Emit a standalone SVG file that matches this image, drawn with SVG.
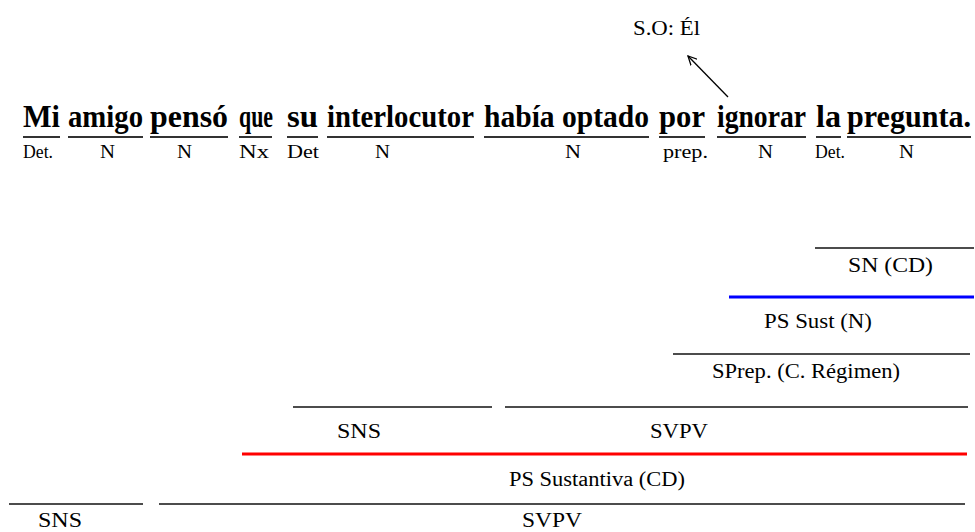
<svg xmlns="http://www.w3.org/2000/svg" width="975" height="532" viewBox="0 0 975 532">
<style>
  .w { font-family: "Liberation Serif", "DejaVu Serif", serif; font-weight: bold; font-size: 31px; fill: #000; }
  .l { font-family: "Liberation Serif", "DejaVu Serif", serif; font-weight: normal; font-size: 18px; fill: #000; }
  .c { font-family: "Liberation Serif", "DejaVu Serif", serif; font-weight: normal; font-size: 20px; fill: #000; }
  .ul { stroke: #333; stroke-width: 2; }
  .br { stroke: #111; stroke-width: 1.6; }
  .blue { stroke: #0000ff; stroke-width: 3; }
  .red { stroke: #ff0000; stroke-width: 3; }
  .arr { stroke: #000; stroke-width: 1.3; fill: none; }
</style>
<defs>
  <marker id="ah" viewBox="0 0 10 10" refX="9" refY="5" markerWidth="10" markerHeight="10" markerUnits="userSpaceOnUse" orient="auto">
    <path d="M0,0.5 L9,5 L0,9.5" fill="none" stroke="#000" stroke-width="1.3"/>
  </marker>
</defs>
<rect width="975" height="532" fill="#fff"/>

<g id="so">
  <text class="c" x="633" y="35" textLength="67" lengthAdjust="spacingAndGlyphs">S.O: Él</text>
</g>

<g id="connectors">
  <line class="arr" x1="728" y1="97" x2="688" y2="56" marker-end="url(#ah)"/>
</g>

<g id="w-mi"><text class="w" x="23" y="127" textLength="37" lengthAdjust="spacingAndGlyphs">Mi</text><line class="ul" x1="23" y1="137" x2="60" y2="137"/><text class="l" x="23" y="158" textLength="30" lengthAdjust="spacingAndGlyphs">Det.</text></g>
<g id="w-amigo"><text class="w" x="68" y="127" textLength="75" lengthAdjust="spacingAndGlyphs">amigo</text><line class="ul" x1="68" y1="137" x2="143" y2="137"/><text class="l" x="100" y="158" textLength="15" lengthAdjust="spacingAndGlyphs">N</text></g>
<g id="w-penso"><text class="w" x="150" y="127" textLength="78" lengthAdjust="spacingAndGlyphs">pensó</text><line class="ul" x1="150" y1="137" x2="228" y2="137"/><text class="l" x="177" y="158" textLength="15" lengthAdjust="spacingAndGlyphs">N</text></g>
<g id="w-que"><text class="w" x="239" y="127" textLength="34" lengthAdjust="spacingAndGlyphs">que</text><line class="ul" x1="239" y1="137" x2="272" y2="137"/><text class="l" x="239" y="158" textLength="30" lengthAdjust="spacingAndGlyphs">Nx</text></g>
<g id="w-su"><text class="w" x="287" y="127" textLength="31" lengthAdjust="spacingAndGlyphs">su</text><line class="ul" x1="287" y1="137" x2="318" y2="137"/><text class="l" x="287" y="158" textLength="32" lengthAdjust="spacingAndGlyphs">Det</text></g>
<g id="w-interlocutor"><text class="w" x="327" y="127" textLength="147" lengthAdjust="spacingAndGlyphs">interlocutor</text><line class="ul" x1="327" y1="137" x2="474" y2="137"/><text class="l" x="375" y="158" textLength="15" lengthAdjust="spacingAndGlyphs">N</text></g>
<g id="w-habia-optado"><text class="w" x="484" y="127" textLength="165" lengthAdjust="spacingAndGlyphs">había optado</text><line class="ul" x1="484" y1="137" x2="649" y2="137"/><text class="l" x="565" y="158" textLength="16" lengthAdjust="spacingAndGlyphs">N</text></g>
<g id="w-por"><text class="w" x="659" y="127" textLength="46" lengthAdjust="spacingAndGlyphs">por</text><line class="ul" x1="659" y1="137" x2="705" y2="137"/><text class="l" x="663" y="158" textLength="45" lengthAdjust="spacingAndGlyphs">prep.</text></g>
<g id="w-ignorar"><text class="w" x="717" y="127" textLength="89" lengthAdjust="spacingAndGlyphs">ignorar</text><line class="ul" x1="717" y1="137" x2="806" y2="137"/><text class="l" x="758" y="158" textLength="15" lengthAdjust="spacingAndGlyphs">N</text></g>
<g id="w-la"><text class="w" x="816" y="127" textLength="25" lengthAdjust="spacingAndGlyphs">la</text><line class="ul" x1="816" y1="137" x2="841" y2="137"/><text class="l" x="815" y="158" textLength="30" lengthAdjust="spacingAndGlyphs">Det.</text></g>
<g id="w-pregunta"><text class="w" x="847" y="127" textLength="124" lengthAdjust="spacingAndGlyphs">pregunta.</text><line class="ul" x1="847" y1="137" x2="971" y2="137"/><text class="l" x="899" y="158" textLength="15" lengthAdjust="spacingAndGlyphs">N</text></g>

<g id="sn-cd"><line class="br" x1="815" y1="248" x2="974" y2="248"/><text class="c" x="848" y="272" textLength="85" lengthAdjust="spacingAndGlyphs">SN (CD)</text></g>
<g id="ps-sust-n"><line class="blue" x1="729" y1="297" x2="974" y2="297"/><text class="c" x="764" y="328" textLength="108" lengthAdjust="spacingAndGlyphs">PS Sust (N)</text></g>
<g id="sprep"><line class="br" x1="673" y1="354" x2="970" y2="354"/><text class="c" x="712" y="378" textLength="188" lengthAdjust="spacingAndGlyphs">SPrep. (C. Régimen)</text></g>
<g id="sns-inner"><line class="br" x1="293" y1="407" x2="492" y2="407"/><text class="c" x="337" y="438" textLength="44" lengthAdjust="spacingAndGlyphs">SNS</text></g>
<g id="svpv-inner"><line class="br" x1="505" y1="407" x2="968" y2="407"/><text class="c" x="650" y="438" textLength="58" lengthAdjust="spacingAndGlyphs">SVPV</text></g>
<g id="ps-sustantiva-cd"><line class="red" x1="242" y1="454" x2="967" y2="454"/><text class="c" x="509" y="486" textLength="176" lengthAdjust="spacingAndGlyphs">PS Sustantiva (CD)</text></g>
<g id="sns-main"><line class="br" x1="9" y1="504" x2="143" y2="504"/><text class="c" x="38" y="527" textLength="44" lengthAdjust="spacingAndGlyphs">SNS</text></g>
<g id="svpv-main"><line class="br" x1="159" y1="504" x2="965" y2="504"/><text class="c" x="522" y="527" textLength="60" lengthAdjust="spacingAndGlyphs">SVPV</text></g>
</svg>
